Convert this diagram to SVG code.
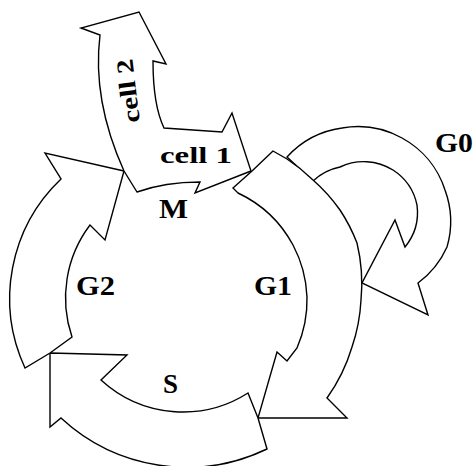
<svg xmlns="http://www.w3.org/2000/svg" width="475" height="466" viewBox="0 0 475 466">
<style>
.arrow{fill:#fff;stroke:#000;stroke-width:1.4;stroke-linejoin:miter}
.lbl{font-family:"Liberation Serif","Times New Roman",serif;font-weight:bold;fill:#000}
</style>
<rect width="475" height="466" fill="#fff"/>
<g id="G0">
<path class="arrow" d="M287,157 A91,91 0 0 1 342,128 A91,91 0 0 1 402,138 A91,91 0 0 1 445,190 A91,91 0 0 1 447,247 A91,91 0 0 1 418,283 L428,315 L362,283 L395,220 L405,247 A55,55 0 0 0 417,205 A55,55 0 0 0 393,170 A55,55 0 0 0 340,167 A55,55 0 0 0 313,181 Z"/>
<text class="lbl" x="435" y="152" font-size="27" textLength="38" lengthAdjust="spacingAndGlyphs">G0</text>
</g>
<g id="G1">
<path class="arrow" d="M273,151 L252,171 L233,188 L238,193 A121,121 0 0 1 293,245 A121,121 0 0 1 307,297 A121,121 0 0 1 297,348 L287,361 L277,352 L258,418 L347,418 L327,398 A172,172 0 0 0 352,347 A172,172 0 0 0 361,300 A172,172 0 0 0 357,243 A172,172 0 0 0 340,210 A172,172 0 0 0 313,180 A172,172 0 0 0 287,159 Z"/>
<text class="lbl" x="254" y="295" font-size="27" textLength="38" lengthAdjust="spacingAndGlyphs">G1</text>
</g>
<g id="S">
<path class="arrow" d="M50,353 L127,355 L101,380 A121,121 0 0 0 248,393 L258,418 L267,449 A185,185 0 0 1 61,418 L50,427 Z"/>
<text class="lbl" x="163" y="393" font-size="28" textLength="15" lengthAdjust="spacingAndGlyphs">S</text>
</g>
<g id="G2">
<path class="arrow" d="M124,171 L45,153 L61,179 A165,165 0 0 0 25,368 L50,353 L72,337 A121,121 0 0 1 90,225 L105,240 Z"/>
<text class="lbl" x="76" y="295" font-size="27" textLength="39" lengthAdjust="spacingAndGlyphs">G2</text>
</g>
<g id="M">
<path class="arrow" d="M124,171 Q92,100 100,35 L81,28 L139,12 L166,64 L153,61 Q153,105 164,128 L222,132 L232,113 L251,171 L195,193 L200,182 Q165,182 137,192 Z"/>
<text class="lbl" x="136" y="90" font-size="24" text-anchor="middle" textLength="64" lengthAdjust="spacingAndGlyphs" transform="rotate(-97 136 90)">cell 2</text>
<text class="lbl" x="160" y="163" font-size="24" textLength="72" lengthAdjust="spacingAndGlyphs">cell 1</text>
<text class="lbl" x="159" y="218" font-size="28" textLength="29" lengthAdjust="spacingAndGlyphs">M</text>
</g>
<g id="connectors"/>
</svg>
